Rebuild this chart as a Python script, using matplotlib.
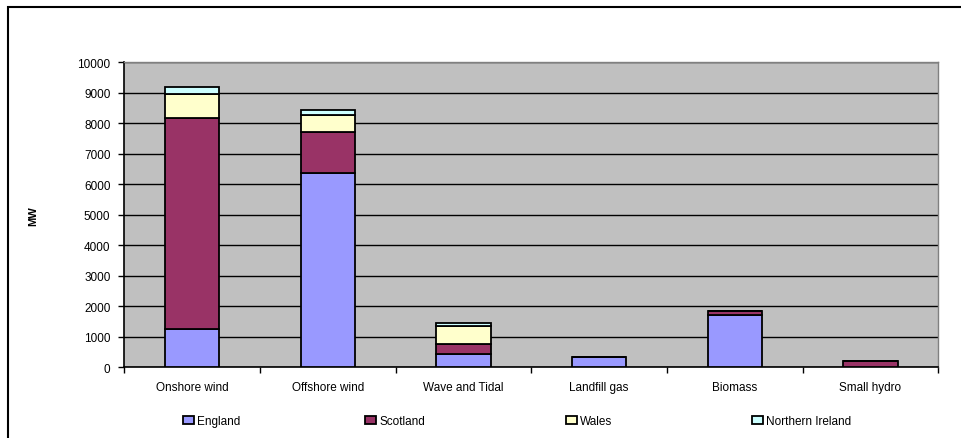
import matplotlib.pyplot as plt
from matplotlib.patches import Rectangle
from matplotlib.ticker import FixedLocator, NullFormatter

# installed capacity (MW) by technology and nation
categories = ["Onshore wind", "Offshore wind", "Wave and Tidal", "Landfill gas", "Biomass", "Small hydro"]
england = [1240, 6370, 450, 340, 1720, 0]
scotland = [6940, 1330, 300, 0, 120, 210]
wales = [770, 580, 600, 0, 0, 0]
northern_ireland = [250, 160, 90, 0, 0, 0]

series = [
    ("England", england, "#9999FF"),
    ("Scotland", scotland, "#993366"),
    ("Wales", wales, "#FFFFCC"),
    ("Northern Ireland", northern_ireland, "#CCFFFF"),
]

plt.rcParams["font.family"] = ["Liberation Sans", "DejaVu Sans"]

fig = plt.figure(figsize=(9.61, 4.39), dpi=100)
ax = fig.add_axes([124.3 / 961, 70.7 / 439, 814 / 961, 305 / 439])
ax.set_facecolor("#C0C0C0")

x = list(range(len(categories)))
bottom = [0] * len(categories)
handles = []
for name, vals, color in series:
    bars = ax.bar(x, vals, width=0.4, bottom=bottom, color=color,
                  edgecolor="black", linewidth=1.3, label=name, zorder=3)
    handles.append(bars)
    bottom = [b + v for b, v in zip(bottom, vals)]

ax.set_xlim(-0.5, len(categories) - 0.5)
ax.set_ylim(0, 10000)
ax.set_yticks(range(0, 10001, 1000))
ax.yaxis.grid(True, color="black", linewidth=1.0, zorder=1)
ax.set_axisbelow(True)

# ticks sit between categories, labels centred under the bars
ax.xaxis.set_major_locator(FixedLocator([i - 0.5 for i in range(len(categories) + 1)]))
ax.xaxis.set_major_formatter(NullFormatter())
ax.xaxis.set_minor_locator(FixedLocator(x))
ax.set_xticklabels(categories, minor=True)
ax.tick_params(axis="x", which="major", length=4, width=1, direction="out")
ax.tick_params(axis="x", which="minor", length=0, pad=10, labelsize=8.5)
ax.tick_params(axis="y", length=4, width=1, direction="out", pad=6, labelsize=8.5)

for side in ("left", "bottom"):
    ax.spines[side].set_color("black")
    ax.spines[side].set_linewidth(1.2)
for side in ("top", "right"):
    ax.spines[side].set_color("#808080")
    ax.spines[side].set_linewidth(1.0)

ax.set_ylabel("MW", fontsize=8, fontweight="bold")
ax.yaxis.set_label_coords(-(124.3 - 38) / 814, 0.5)

# one legend entry per nation, spread across the bottom
legend_x = [183, 365, 566, 752]
for (name, _, _), h, lx in zip(series, handles, legend_x):
    fig.legend(handles=[h], labels=[name], loc="center left",
               bbox_to_anchor=(lx / 961, 1 - 422 / 439), frameon=False,
               fontsize=8.5, handlelength=0.9, handleheight=0.7,
               handletextpad=0.3, borderpad=0, borderaxespad=0)

# outer chart border
fig.patches.append(Rectangle((8 / 961, -0.05), 1.0, 1.05 - 8 / 439,
                             transform=fig.transFigure, fill=False,
                             edgecolor="black", linewidth=1.5))

fig.savefig("out.png", dpi=100)
